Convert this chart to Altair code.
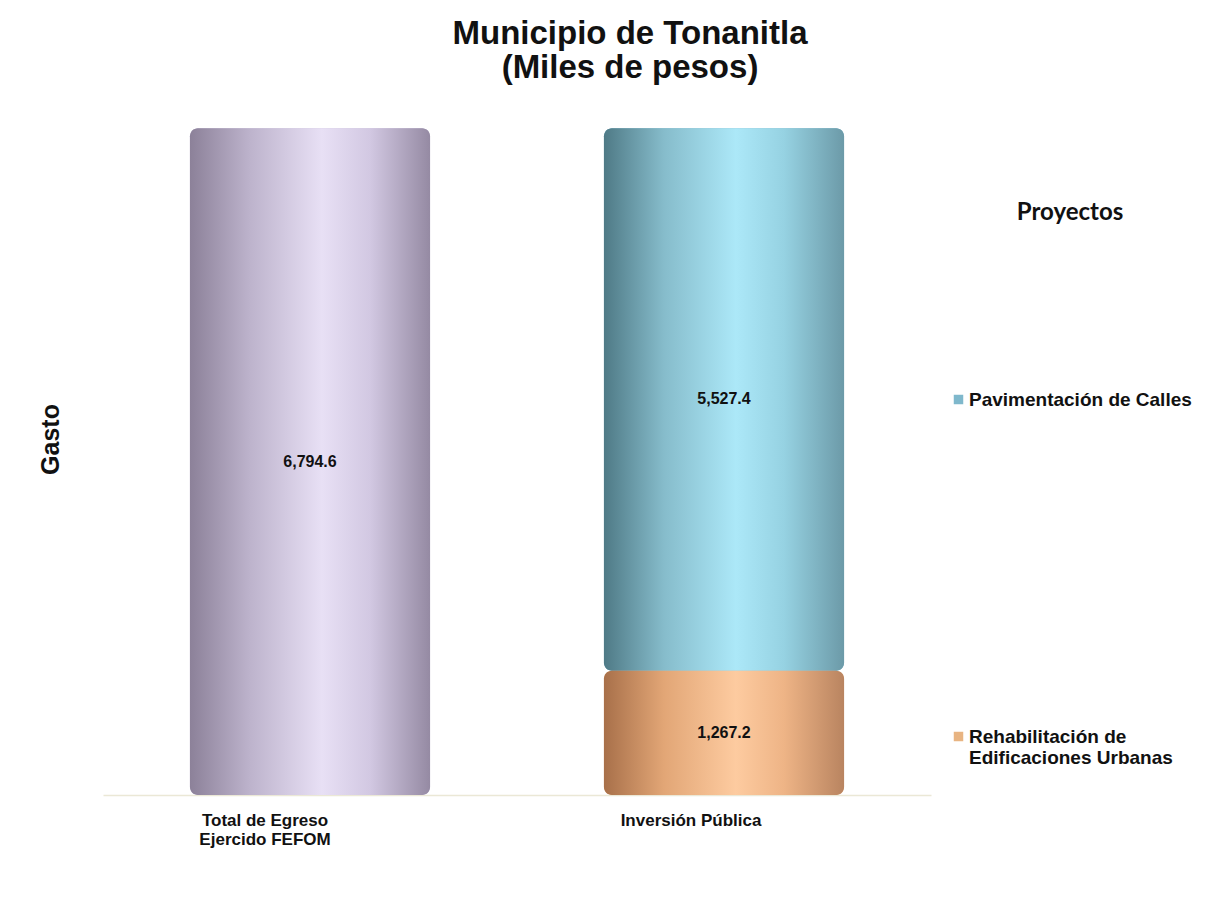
import altair as alt
import pandas as pd

# ---- data ----
categorias = ["Total de Egreso Ejercido FEFOM", "Inversión Pública", "Inversión Pública"]
series = ["Total de Egreso Ejercido FEFOM", "Pavimentación de Calles", "Rehabilitación de Edificaciones Urbanas"]
valores = [6794.6, 5527.4, 1267.2]
orden = [1, 2, 1]

orden_x = ["Total de Egreso Ejercido FEFOM", "Inversión Pública"]
leyenda = ["Pavimentación de Calles", "Rehabilitación de Edificaciones Urbanas"]
colores = ["#c9c0db", "#7fb8cc", "#e8b482"]

# cylinder-like shading per series (left dark, bright near middle, right dark)
gradientes = {
    "Total de Egreso Ejercido FEFOM": ["#8c8199", "#bdb3cc", "#e8e0f5", "#d2c8e2", "#958aa3"],
    "Pavimentación de Calles": ["#4f7a86", "#86bccb", "#ace8f8", "#96d2e2", "#6c9aa8"],
    "Rehabilitación de Edificaciones Urbanas": ["#a8704a", "#e2a676", "#fdcba0", "#eeb486", "#b98460"],
}

df = pd.DataFrame({"categoria": categorias, "serie": series, "valor": valores, "orden": orden})

W, H = 828, 687
FONT = "Liberation Sans"

base = (
    alt.Chart(df)
    .transform_stack(stack="valor", as_=["y0", "y1"], groupby=["categoria"],
                     sort=[alt.SortField("orden", order="ascending")])
    .transform_calculate(ymid="(datum.y0 + datum.y1) / 2")
)

xenc = alt.X(
    "categoria:N",
    sort=orden_x,
    scale=alt.Scale(domain=orden_x, paddingInner=0.42, paddingOuter=0.21),
    axis=alt.Axis(
        title=None, labelAngle=0, ticks=False, domain=True, domainColor="#ebe8d6",
        domainWidth=1.5, labelFont=FONT, labelFontSize=17,
        labelFontWeight="bold", labelColor="#111111", labelPadding=17,
        labelOffset=alt.condition("datum.value == 'Inversión Pública'", alt.value(-33), alt.value(-45)),
        labelExpr="datum.label == 'Total de Egreso Ejercido FEFOM' ? ['Total de Egreso', 'Ejercido FEFOM'] : datum.label",
    ),
)
yscale = alt.Scale(domain=[0, 7000])
yenc = alt.Y(
    "y0:Q", scale=yscale,
    axis=alt.Axis(title="Gasto", labels=False, ticks=False, domain=False, grid=False,
                  titleFont=FONT, titleFontSize=25, titleFontWeight="bold",
                  titleColor="#111111", titleX=-40, titleY=331),
)

legend_layer = base.mark_bar(cornerRadius=8).encode(
    x=xenc,
    y=yenc,
    y2="y1:Q",
    color=alt.Color(
        "serie:N",
        scale=alt.Scale(domain=series, range=colores),
        legend=alt.Legend(
            values=leyenda, title="Proyectos", orient="none", legendX=846, legendY=93,
            titleFont="Lato", titleFontSize=24, titleFontWeight="bold", titleColor="#111111",
            titleAnchor="middle", titleAlign="center", titlePadding=165,
            labelFont=FONT, labelFontSize=19, labelFontWeight="bold", labelColor="#111111",
            labelLimit=400, labelOffset=1, symbolType="square", symbolSize=90, rowPadding=317,
            labelExpr="datum.label == 'Rehabilitación de Edificaciones Urbanas' ? ['Rehabilitación de', 'Edificaciones Urbanas'] : datum.label",
        ),
    ),
)

capas = [legend_layer]
for s in series:
    paradas = gradientes[s]
    n = len(paradas)
    grad = alt.LinearGradient(
        gradient="linear", x1=0, x2=1, y1=0, y2=0,
        stops=[alt.GradientStop(offset=[0, 0.25, 0.55, 0.75, 1][i], color=paradas[i]) for i in range(n)],
    )
    capas.append(
        base.transform_filter(alt.datum.serie == s)
        .mark_bar(cornerRadius=8, fill=grad)
        .encode(x=xenc, y=alt.Y("y0:Q", scale=yscale), y2="y1:Q")
    )

etiquetas = base.mark_text(font=FONT, fontSize=16, fontWeight="bold", color="#111111").encode(
    x=xenc,
    y=alt.Y("ymid:Q", scale=yscale),
    text=alt.Text("valor:Q", format=",.1f"),
)
capas.append(etiquetas)

chart = (
    alt.layer(*capas)
    .properties(
        width=W, height=H,
        title=alt.TitleParams(
            text=["Municipio de Tonanitla", "(Miles de pesos)"],
            font=FONT, fontSize=33, fontWeight="bold", color="#111111",
            anchor="middle", frame="group", dx=113, offset=23, lineHeight=34,
        ),
        autosize=alt.AutoSizeParams(type="none"),
        padding={"left": 95, "top": 100, "right": 265, "bottom": 95},
        view=alt.ViewBackground(stroke="transparent", strokeWidth=0),
    )
    .configure_view(stroke="transparent", strokeWidth=0)
    .configure(background="white")
)

chart.save("out.html", embed_options={"renderer": "svg", "actions": False})
